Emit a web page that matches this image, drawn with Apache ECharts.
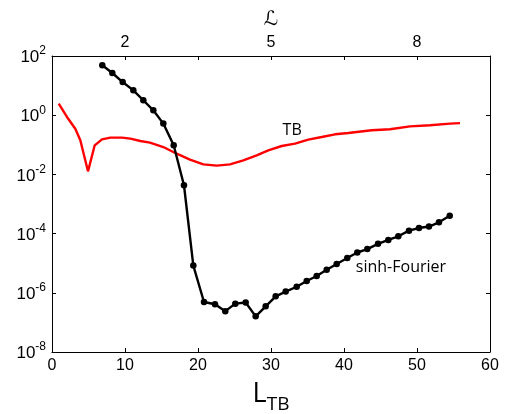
<!DOCTYPE html>
<html>
<head>
<meta charset="utf-8">
<script src="https://cdn.jsdelivr.net/npm/echarts@6/dist/echarts.min.js"></script>
<style>
  html, body { margin: 0; padding: 0; background: #fff; }
  #chart { width: 508px; height: 414px; }
</style>
</head>
<body>
<div id="chart"></div>
<script>
// TB error curve versus L_TB
const tbX = [0.92, 2.05, 3.19, 3.88, 4.93, 5.85, 6.85, 7.99, 9.59, 10.73, 12.1, 13.42, 15.25, 17.08,
  18.9, 20.73, 22.56, 24.38, 26.21, 28.04, 29.63, 31.47, 33.29, 35.11, 36.95, 38.77, 40.59,
  43.79, 46.3, 49.04, 51.78, 54.52, 55.89];
const tbY = [2.47, 0.87, 0.35, 0.142, 0.0127, 0.096, 0.153, 0.175, 0.175, 0.162, 0.134, 0.119, 0.084, 0.050,
  0.0316, 0.0219, 0.0198, 0.0219, 0.030, 0.044, 0.065, 0.091, 0.11, 0.15, 0.184, 0.226, 0.25,
  0.31, 0.334, 0.42, 0.46, 0.52, 0.54];

// sinh-Fourier error curve versus L_TB
const sfX = [6.89, 8.26, 9.68, 11.14, 12.51, 13.88, 15.25, 16.67, 18.08, 19.36, 20.82, 22.33, 23.74,
  25.11, 26.53, 27.9, 29.27, 30.64, 32.01, 33.52, 34.89, 36.26, 37.63, 39.0, 40.45, 41.82, 43.19,
  44.66, 46.07, 47.44, 48.9, 50.27, 51.64, 53.01, 54.48];
const sfY = [48.5, 26.7, 13.2, 6.9, 3.2, 1.46, 0.52, 0.096, 0.0043, 8.3e-6, 4.9e-7, 4.1e-7, 2.4e-7,
  4.3e-7, 4.7e-7, 1.6e-7, 3.5e-7, 7.6e-7, 1.1e-6, 1.6e-6, 2.5e-6, 3.7e-6, 6.0e-6, 9.4e-6, 1.5e-5,
  2.3e-5, 3.0e-5, 4.5e-5, 6.1e-5, 8.1e-5, 1.26e-4, 1.55e-4, 1.73e-4, 2.4e-4, 4.0e-4];

// top axis: L_TB tick position -> script-L value
const topTickPos = [10, 30, 50];
const topTickText = ['2', '5', '8'];

const seriesNames = ['TB', 'sinh-Fourier'];

const tickFont = 'Liberation Sans, Arial, sans-serif';
const textFont = 'Open Sans, Noto Sans, sans-serif';

function zip(xs, ys) { return xs.map((x, i) => [x, ys[i]]); }

const chart = echarts.init(document.getElementById('chart'), null, { renderer: 'canvas' });

const frameAxisLine = { show: true, onZero: false, lineStyle: { color: '#000', width: 1 } };
const inTick = { show: true, inside: true, length: 4, lineStyle: { color: '#000', width: 1 } };

// log axis: one tick every two decades, 1e-8 .. 1e2
const logAxisBase = { type: 'log', logBase: 10, min: 1e-8, max: 1e2, interval: 2, splitLine: { show: false },
  minorTick: { show: false }, axisLine: frameAxisLine, axisTick: inTick };

chart.setOption({
  animation: false,
  backgroundColor: '#fff',
  grid: { left: 52, right: 18, top: 56, bottom: 62, containLabel: false, outerBoundsMode: 'none' },
  xAxis: [
    {
      type: 'value', position: 'bottom', min: 0, max: 60, interval: 10,
      axisLine: frameAxisLine, axisTick: inTick, splitLine: { show: false },
      axisLabel: { color: '#000', fontSize: 16, fontFamily: tickFont, margin: 6 },
      name: '{l|L}{s|TB}', nameLocation: 'middle', nameGap: 26,
      nameTextStyle: {
        rich: {
          l: { fontSize: 27, fontFamily: textFont, color: '#000', verticalAlign: 'bottom', lineHeight: 30 },
          s: { fontSize: 19, fontFamily: textFont, color: '#000', verticalAlign: 'bottom', lineHeight: 30, padding: [0, 0, -6, 0] }
        }
      }
    },
    {
      type: 'value', position: 'top', min: 0, max: 60, interval: 10,
      axisLine: frameAxisLine, axisTick: inTick, splitLine: { show: false },
      axisLabel: {
        color: '#000', fontSize: 16, fontFamily: tickFont, margin: 5,
        formatter: v => { const i = topTickPos.indexOf(v); return i >= 0 ? topTickText[i] : ''; }
      },
      name: '\u2112', nameLocation: 'middle', nameGap: 26,
      nameTextStyle: { fontSize: 20, fontFamily: 'DejaVu Serif, DejaVu Sans, serif', color: '#000' }
    }
  ],
  yAxis: [
    Object.assign({}, logAxisBase, {
      position: 'left',
      axisLabel: {
        margin: 6,
        formatter: v => '{b|10}{e|' + Math.round(Math.log10(v)) + '}',
        rich: {
          b: { fontSize: 17, fontFamily: tickFont, color: '#000', verticalAlign: 'bottom', lineHeight: 20 },
          e: { fontSize: 12, fontFamily: tickFont, color: '#000', verticalAlign: 'bottom', lineHeight: 20, padding: [0, 0, 9, 0] }
        }
      }
    }),
    Object.assign({}, logAxisBase, { position: 'right', axisLabel: { show: false } })
  ],
  series: [
    {
      name: seriesNames[0], type: 'line', xAxisIndex: 0, yAxisIndex: 0,
      data: zip(tbX, tbY), showSymbol: false, symbol: 'none',
      lineStyle: { color: '#ff0000', width: 2.4 }, z: 2
    },
    {
      name: seriesNames[1], type: 'line', xAxisIndex: 0, yAxisIndex: 0,
      data: zip(sfX, sfY), symbol: 'circle', symbolSize: 6.5,
      itemStyle: { color: '#000' },
      lineStyle: { color: '#000', width: 2.4 }, z: 3
    }
  ]
});

// curve annotations placed in data coordinates
function place(name, x, y) {
  const p = chart.convertToPixel({ xAxisIndex: 0, yAxisIndex: 0 }, [x, y]);
  return {
    type: 'text', x: p[0], y: p[1],
    style: { text: name, fill: '#000', font: '16px ' + textFont, align: 'center', verticalAlign: 'middle' }
  };
}
chart.setOption({
  graphic: [
    place(seriesNames[0], 32.9, 0.31),
    place(seriesNames[1], 47.8, 7.2e-6)
  ]
});
</script>
</body>
</html>
